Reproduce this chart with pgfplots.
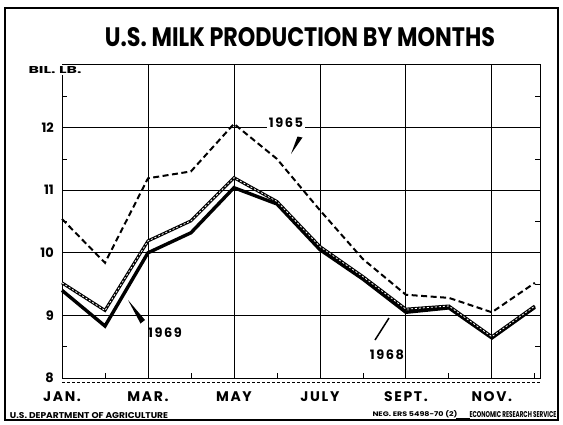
\documentclass[border=0pt]{standalone}
\usepackage{fontspec}
\usepackage{graphicx}
\usepackage{pgfplots}
\pgfplotsset{compat=1.18}
\setmainfont{Poppins}
\newfontfamily\pop{Poppins}
\newfontfamily\popls{Poppins}[LetterSpace=12]
\newcommand{\rb}[3]{\resizebox{#1bp}{#2bp}{\pop\bfseries #3}}

\pgfplotstableread{
m v
1 10.54
2 9.84
3 11.19
4 11.30
5 12.06
6 11.50
7 10.68
8 9.90
9 9.33
10 9.28
11 9.05
12 9.52
}\yrsixtyfive
\pgfplotstableread{
m v
1 9.52
2 9.08
3 10.19
4 10.51
5 11.20
6 10.82
7 10.10
8 9.62
9 9.10
10 9.15
11 8.66
12 9.15
}\yrsixtyeight
\pgfplotstableread{
m v
1 9.40
2 8.83
3 10.00
4 10.32
5 11.04
6 10.78
7 10.05
8 9.58
9 9.05
10 9.12
11 8.64
12 9.13
}\yrsixtynine

\begin{document}
\begin{tikzpicture}[x=1bp,y=1bp]
\useasboundingbox (0,0) rectangle (563,424);
\draw[line width=1.2bp] (5,4) rectangle (558,416);
\node[inner sep=0] at (300,386.5) {\rb{390}{19}{U.S. MILK PRODUCTION BY MONTHS}};
\draw[line width=0.7bp, dash pattern=on 3bp off 2bp] (62,42) -- (540,42);
\begin{axis}[
  at={(62bp,46bp)}, anchor=south west,
  scale only axis, width=478bp, height=313bp,
  xmin=1, xmax=12.12, ymin=8, ymax=13,
  xtick={1,3,5,7,9,11},
  xticklabels={JAN.,MAR.,MAY,JULY,SEPT.,NOV.},
  minor xtick={2,4,6,8,10,12},
  ytick={8,9,10,11,12},
  minor ytick={8.5,9.5,10.5,11.5,12.5},
  xtick pos=left, ytick pos=both,
  tick align=inside,
  major tick length=5bp, minor tick length=5bp,
  tick style={black, line width=0.8bp},
  grid=major,
  major grid style={black, line width=0.8bp},
  axis line style={black, line width=1bp},
  /pgf/number format/assume math mode=true,
  xticklabel style={font=\popls\bfseries\fontsize{14}{14}\selectfont, anchor=center, yshift=-19bp},
  yticklabel style={font=\pop\bfseries\fontsize{13}{13}\selectfont, anchor=east, inner sep=0pt, xshift=-8bp},
  clip=false,
]
\addplot[black, line width=2bp, dash pattern=on 6bp off 3.5bp] table[x=m,y=v] {\yrsixtyfive};
\addplot[black, line width=3.4bp, line join=miter] table[x=m,y=v] {\yrsixtynine};
\addplot[black, line width=3bp, line join=miter] table[x=m,y=v] {\yrsixtyeight};
\addplot[white, line width=0.8bp, dash pattern=on 2bp off 2bp] table[x=m,y=v] {\yrsixtyeight};
\end{axis}
% label over the axis corner
\node[fill=white, inner sep=1.5bp] at (55,354) {\rb{53}{7}{BIL. LB.}};
% series labels
\node[fill=white, inner sep=2bp, font=\popls\bfseries\fontsize{13}{13}\selectfont] at (286,301) {1965};
\fill (297.5,287.5) -- (302.5,286.5) -- (291,270) -- cycle;
\node[font=\popls\bfseries\fontsize{13}{13}\selectfont] at (165,91) {1969};
\fill (128,124) -- (140.5,100.5) -- (145,104) -- cycle;
\node[font=\popls\bfseries\fontsize{13}{13}\selectfont] at (387,69) {1968};
\draw[line width=1.5bp] (389,106) -- (375,84);
% footer
\node[inner sep=0] at (89,8.5) {\rb{158}{6}{U.S. DEPARTMENT OF AGRICULTURE}};
\node[inner sep=0] at (415,9.5) {\rb{85}{6}{NEG. ERS 5498-70 (2)}};
\draw[line width=0.6bp] (456,6) -- (470,6);
\node[inner sep=0] at (513,9.5) {\rb{87}{6}{ECONOMIC RESEARCH SERVICE}};
\end{tikzpicture}
\end{document}
